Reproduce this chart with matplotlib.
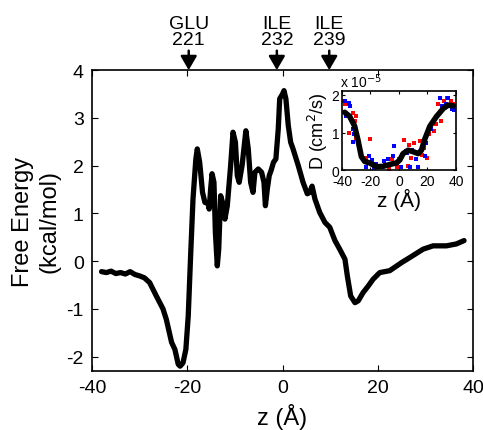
import numpy as np
import matplotlib
matplotlib.use("Agg")
import matplotlib.pyplot as plt

plt.rcParams['font.family'] = ['Liberation Sans', 'DejaVu Sans']
plt.rcParams['axes.unicode_minus'] = False

# free energy profile
z = [-38.0, -37.0, -36.0, -35.0, -34.0, -33.0, -32.0, -31.0, -30.0, -29.0,
     -27.9, -26.5, -25.1, -24.4, -23.3, -22.6, -21.9, -21.5, -20.9, -20.3,
     -19.8, -19.3, -18.8, -18.2, -17.9, -17.4, -16.8, -16.3, -15.6, -15.4,
     -15.1, -14.8, -14.4, -14.1, -13.7, -13.4, -13.0, -12.6, -12.1, -11.6,
     -10.9, -10.4, -9.9, -9.5, -9.1, -8.5, -7.7, -7.2, -6.7, -6.2,
     -5.8, -5.1, -4.4, -3.9, -3.6, -3.2, -2.8, -2.4, -1.9, -1.4,
     -0.9, -0.6, 0.0, 0.3, 0.7, 1.2, 1.7, 2.2, 3.3, 4.3,
     5.2, 5.7, 6.2, 6.8, 7.8, 8.9, 9.9, 11.0, 12.0, 13.1,
     13.6, 14.3, 15.2, 15.9, 16.9, 18.0, 19.0, 20.4, 22.5, 25.0,
     26.8, 29.5, 31.6, 34.4, 36.5, 38.1]
G = [-0.22, -0.24, -0.21, -0.26, -0.24, -0.27, -0.22, -0.28, -0.31, -0.35,
     -0.45, -0.73, -1.0, -1.22, -1.7, -1.85, -2.16, -2.2, -2.13, -1.85,
     -1.15, 0.11, 1.3, 2.14, 2.35, 2.07, 1.44, 1.23, 1.2, 1.09,
     1.51, 1.83, 1.65, 0.6, -0.1, 0.25, 1.37, 1.23, 0.88, 1.16,
     2.0, 2.7, 2.49, 1.79, 1.65, 2.0, 2.73, 2.35, 1.65, 1.44,
     1.86, 1.93, 1.86, 1.65, 1.16, 1.51, 1.79, 1.9, 2.07, 2.14,
     2.77, 3.4, 3.5, 3.57, 3.4, 2.84, 2.49, 2.35, 2.0, 1.65,
     1.41, 1.44, 1.57, 1.3, 1.02, 0.81, 0.71, 0.43, 0.25, 0.04,
     -0.31, -0.73, -0.87, -0.83, -0.66, -0.52, -0.38, -0.24, -0.2, -0.03,
     0.08, 0.25, 0.32, 0.32, 0.36, 0.43]

# diffusion coefficient (units of 1e-5 cm^2/s)
zD = [-38.1, -34.6, -31.1, -28.7, -26.4, -24.0, -20.5, -15.8, -11.1, -6.5,
      -1.8, 0.6, 2.9, 6.5, 10.0, 13.5, 15.8, 18.2, 21.7, 26.4,
      31.1, 34.6, 38.1]
D = [1.54, 1.43, 1.17, 0.79, 0.36, 0.23, 0.19, 0.09, 0.10, 0.15,
     0.19, 0.27, 0.44, 0.53, 0.49, 0.44, 0.53, 0.83, 1.17, 1.43,
     1.64, 1.73, 1.71]

zRed = [-38.8, -36.5, -38.2, -32.3, -30.4, -31.1, -35.1, -29.9, -20.1, -22.9,
        -18.8, -16.4, -14.0, -9.6, -7.3, -5.0, -3.8, -1.5, -1.1, 3.6,
        7.1, 10.6, 14.5, 16.0, 17.6, 8.2, 6.6, 19.9, 21.1, 24.6,
        25.8, 27.7, 29.3, 30.5, 31.6, 34.0, 35.1, 36.3, 38.0, 0.0]
DRed = [1.85, 1.76, 1.76, 1.51, 1.43, 1.30, 1.00, 0.85, 0.84, 0.33,
        0.20, 0.09, 0.08, 0.14, 0.03, 0.29, 0.18, 0.09, 0.12, 0.79,
        0.67, 0.71, 0.77, 0.41, 0.58, 0.33, 0.12, 0.33, 0.96, 1.05,
        1.22, 1.76, 1.30, 1.60, 1.85, 1.93, 1.72, 1.85, 1.76, 0.29]

zBlue = [-37.8, -35.0, -34.5, -37.3, -32.6, -31.4, -32.0, -21.1, -18.8, -16.0,
         -12.5, -10.2, -7.8, -4.5, -3.3, -1.7, -23.4, -17.8, 1.2, 4.7,
         5.9, 9.4, 11.7, 13.6, 18.3, 18.8, 22.3, 23.4, 26.9, 28.6,
         30.5, 32.8, 34.7, 37.0, 38.7, 2.4, 7.5]
DBlue = [1.85, 1.80, 1.70, 1.43, 1.09, 0.96, 0.75, 0.37, 0.26, 0.16,
         0.09, 0.24, 0.29, 0.37, 0.65, 0.18, 0.08, 0.06, 0.08, 0.50,
         0.46, 0.54, 0.29, 0.08, 0.37, 0.71, 1.09, 1.26, 1.43, 1.92,
         1.72, 1.76, 1.93, 1.63, 1.60, 0.41, 0.08]

residues = ["GLU\n221", "ILE\n232", "ILE\n239"]
resPos = [-19.7, -1.2, 9.8]

fig = plt.figure(figsize=(4.83, 4.31), dpi=100)
ax = fig.add_axes([0.1905, 0.137, 0.789, 0.698])
ax.plot(z, G, 'k-', linewidth=3.8, solid_capstyle='round', solid_joinstyle='round')
ax.set_xlim(-40, 40)
ax.set_ylim(-2.3, 4)
ax.set_xticks([-40, -20, 0, 20, 40])
ax.set_yticks([-2, -1, 0, 1, 2, 3, 4])
ax.tick_params(direction='in', top=True, right=True, labelsize=14, length=4, pad=6)
ax.set_xlabel('z (Å)', fontsize=17, labelpad=5)
ax.set_ylabel('Free Energy\n(kcal/mol)', fontsize=17, labelpad=4, linespacing=1.3)
for s in ax.spines.values():
    s.set_linewidth(1.2)

for name, x in zip(residues, resPos):
    ax.annotate(name, xy=(x, 1.0), xycoords=('data', 'axes fraction'),
                xytext=(0, 16), textcoords='offset points',
                ha='center', va='bottom', fontsize=14, linespacing=0.95,
                annotation_clip=False,
                arrowprops=dict(arrowstyle='-|>,head_width=0.35,head_length=0.6',
                                color='k', lw=1.8, shrinkA=0, shrinkB=0))

axin = fig.add_axes([0.708, 0.603, 0.236, 0.183])
axin.plot(zRed, DRed, 's', color='red', markersize=2.4, markeredgewidth=0)
axin.plot(zBlue, DBlue, 's', color='blue', markersize=2.4, markeredgewidth=0)
axin.plot(zD, D, 'k-', linewidth=4, solid_capstyle='round')
axin.set_xlim(-40, 40)
axin.set_ylim(0, 2.1)
axin.set_xticks([-40, -20, 0, 20, 40])
axin.set_yticks([0, 1, 2])
axin.tick_params(direction='in', top=True, right=True, labelsize=10, length=2, pad=2)
axin.tick_params(axis='x', pad=3)
axin.set_xlabel('z (Å)', fontsize=15, labelpad=0)
axin.set_ylabel('D (cm$^2$/s)', fontsize=13, labelpad=1)
axin.text(-0.02, 1.01, 'x 10$^{-5}$', transform=axin.transAxes, fontsize=10,
          ha='left', va='bottom')
for s in axin.spines.values():
    s.set_linewidth(1.2)

fig.savefig('out.png', dpi=100)
